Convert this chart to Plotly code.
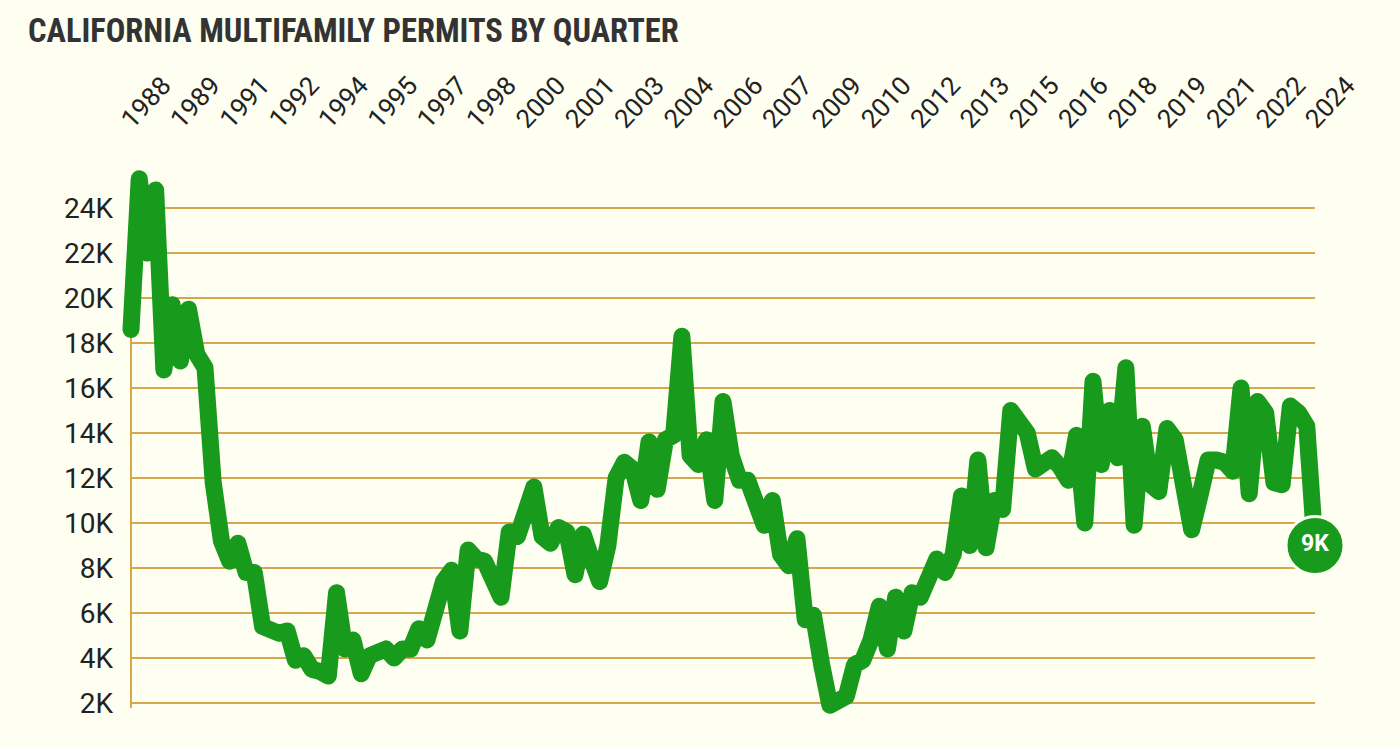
import plotly.graph_objects as go

# Quarterly multifamily permits, 1988 Q1 .. 2024 Q1 (units)
start_year = 1988
permits = [
    18600, 25300, 22000, 24800, 16800, 19700, 17200, 19500, 17500, 16900,
    11800, 9200, 8300, 9100, 7800, 7800, 5400, 5200, 5100, 5200,
    3900, 4100, 3500, 3400, 3200, 6900, 4400, 4800, 3300, 4100,
    4300, 4400, 4000, 4400, 4400, 5300, 4800, 6400, 7400, 7900,
    5200, 8800, 8400, 8300, 7500, 6700, 9600, 9400, 10500, 11600,
    9400, 9100, 9800, 9600, 7700, 9500, 8400, 7400, 9000, 12000,
    12700, 12400, 11000, 13600, 11500, 13700, 13900, 18300, 13000, 12600,
    13700, 11000, 15400, 13000, 11900, 11900, 10900, 9900, 11000, 8600,
    8100, 9300, 5700, 5900, 3700, 1900, 2100, 2300, 3700, 3900,
    4800, 6300, 4400, 6700, 5200, 6900, 6700, 7600, 8400, 7800,
    8600, 11200, 9000, 12800, 8900, 11000, 10600, 15000, 14600, 14000,
    12400, 12600, 12900, 12500, 11900, 13900, 10000, 16300, 12600, 15000,
    12900, 16900, 9900, 14300, 11700, 11400, 14200, 13700, 12000, 9700,
    11200, 12800, 12800, 12700, 12300, 16000, 11300, 15400, 14900, 11800,
    11700, 15200, 14900, 14300, 9000,
]
x_vals = [start_year + i / 4 for i in range(len(permits))]

tick_labels = ["1988", "1989", "1991", "1992", "1994", "1995", "1997", "1998",
               "2000", "2001", "2003", "2004", "2006", "2007", "2009", "2010",
               "2012", "2013", "2015", "2016", "2018", "2019", "2021", "2022", "2024"]
tick_vals = [start_year + 1.5 * i for i in range(len(tick_labels))]

y_ticks = [2000, 4000, 6000, 8000, 10000, 12000, 14000, 16000, 18000, 20000, 22000, 24000]
y_labels = ["2K", "4K", "6K", "8K", "10K", "12K", "14K", "16K", "18K", "20K", "22K", "24K"]

last_label = "9K"

BG = "#fefef1"
GREEN = "#189a1c"
GRID = "#d5a84e"
TEXT = "#222222"

fig = go.Figure()

fig.add_trace(go.Scatter(
    x=x_vals, y=permits, mode="lines",
    line=dict(color=GREEN, width=17),
    hoverinfo="skip", showlegend=False,
))

fig.add_trace(go.Scatter(
    x=[x_vals[-1]], y=[permits[-1]], mode="markers+text",
    marker=dict(size=58, color=GREEN, line=dict(color=BG, width=3)),
    text=[last_label], textposition="middle center",
    textfont=dict(family="Roboto", size=23, color="white", weight="bold"),
    cliponaxis=False, hoverinfo="skip", showlegend=False,
))

shapes = []
for yv in y_ticks:
    shapes.append(dict(type="line", xref="x", yref="y", x0=x_vals[0], x1=x_vals[-1],
                       y0=yv, y1=yv, line=dict(color=GRID, width=2), layer="below"))
shapes.append(dict(type="line", xref="x", yref="y", x0=x_vals[0], x1=x_vals[0],
                   y0=1780, y1=y_ticks[-1], line=dict(color=GRID, width=2), layer="below"))

fig.update_layout(
    width=1400, height=747,
    margin=dict(l=118, r=70, t=140, b=27),
    paper_bgcolor=BG, plot_bgcolor=BG,
    shapes=shapes,
    title=dict(text="CALIFORNIA MULTIFAMILY PERMITS BY QUARTER",
               x=28 / 1400, xanchor="left", xref="container",
               y=1 - 31 / 747, yanchor="middle", yref="container",
               font=dict(family="Liberation Sans Narrow, Roboto Condensed, DejaVu Sans Condensed, sans-serif",
                         size=32.5, color="#333333", weight="bold")),
    xaxis=dict(side="top", range=[1987.605, 2024.456], tickvals=tick_vals, ticktext=tick_labels,
               tickangle=-47, showgrid=False, zeroline=False, showline=False, ticks="",
               ticklabelshift=-8,
               tickfont=dict(family="Roboto", size=26, color=TEXT), fixedrange=True),
    yaxis=dict(range=[1244, 27022], tickvals=y_ticks, ticktext=y_labels,
               showgrid=False, zeroline=False, showline=False, ticks="",
               ticklabelstandoff=4,
               tickfont=dict(family="Roboto", size=28, color=TEXT), fixedrange=True),
)

post = """
var gd = document.getElementById('{plot_id}');
function fixJoins(){
  gd.querySelectorAll('.scatterlayer .js-line').forEach(function(p){
    p.style.strokeLinejoin='round'; p.style.strokeLinecap='round';
  });
}
fixJoins();
gd.on('plotly_afterplot', fixJoins);
"""

fig.write_html("out.html", post_script=post, config={"displayModeBar": False})
